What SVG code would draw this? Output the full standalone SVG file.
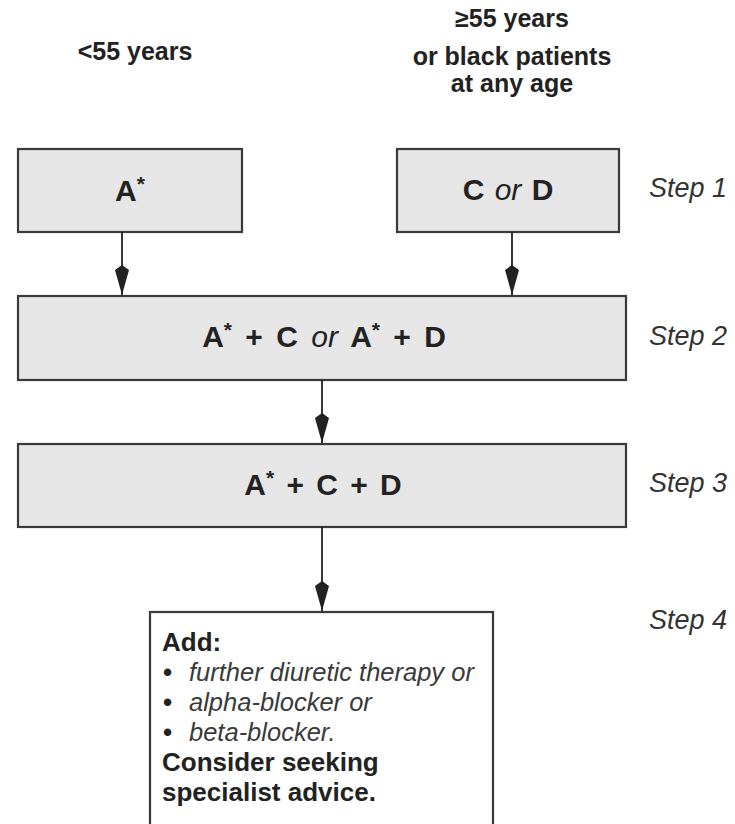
<svg xmlns="http://www.w3.org/2000/svg" width="735" height="824" viewBox="0 0 735 824">
<defs>
<style>
.box{fill:#e6e6e7;stroke:#3a3a3a;stroke-width:2.2}
.wbox{fill:#ffffff;stroke:#3a3a3a;stroke-width:2.2}
.bt{font-family:"Liberation Sans",Arial,sans-serif;font-weight:bold;font-size:30px;fill:#222;text-anchor:middle}
.it{font-style:italic;font-weight:normal}
.sup{font-size:21px}
.hd{font-family:"Liberation Sans",Arial,sans-serif;font-weight:bold;font-size:25px;fill:#222;text-anchor:middle}
.step{font-family:"Liberation Sans",Arial,sans-serif;font-style:italic;font-size:27px;fill:#333}
.b4{font-family:"Liberation Sans",Arial,sans-serif;font-weight:bold;font-size:26px;fill:#222}
.i4{font-family:"Liberation Sans",Arial,sans-serif;font-style:italic;font-size:25.5px;fill:#3a3a3a}
.conn{stroke:#222;stroke-width:1.8;fill:none;marker-end:url(#ah)}
</style>
<marker id="ah" markerUnits="userSpaceOnUse" markerWidth="32" markerHeight="16" viewBox="-31 -8 32 16" refX="0" refY="0" orient="auto">
<path d="M0,0 L-25,-7 L-30,0 L-25,7 Z" fill="#222"/>
</marker>
</defs>

<g id="labels">
<text class="hd" x="135" y="60">&lt;55 years</text>
<text class="hd" x="512" y="27">≥55 years</text>
<text class="hd" x="512" y="65">or black patients</text>
<text class="hd" x="512" y="92">at any age</text>
</g>

<g id="steps">
<text class="step" x="649" y="197">Step 1</text>
<text class="step" x="649" y="345">Step 2</text>
<text class="step" x="649" y="492">Step 3</text>
<text class="step" x="649" y="629">Step 4</text>
</g>

<g id="nodeA">
<rect class="box" x="18" y="149" width="224" height="83"/>
<text class="bt" x="130" y="201">A<tspan class="sup" dy="-10">*</tspan></text>
</g>

<g id="nodeCD">
<rect class="box" x="397" y="149" width="222" height="83"/>
<text class="bt" x="508" y="200" word-spacing="2">C <tspan class="it">or</tspan> D</text>
</g>

<g id="nodeStep2">
<rect class="box" x="18" y="296" width="608" height="84"/>
<text class="bt" x="324" y="347" word-spacing="5">A<tspan class="sup" dy="-10">*</tspan><tspan dy="10"> + C </tspan><tspan class="it">or</tspan> A<tspan class="sup" dy="-10">*</tspan><tspan dy="10"> + D</tspan></text>
</g>

<g id="nodeStep3">
<rect class="box" x="18" y="444" width="608" height="83"/>
<text class="bt" x="323" y="495" word-spacing="4">A<tspan class="sup" dy="-10">*</tspan><tspan dy="10"> + C + D</tspan></text>
</g>

<g id="nodeStep4">
<rect class="wbox" x="150" y="612" width="343" height="230"/>
<text class="b4" x="162" y="651">Add:</text>
<text class="b4" x="163" y="681">•</text>
<text class="i4" x="189" y="681">further diuretic therapy or</text>
<text class="b4" x="163" y="711">•</text>
<text class="i4" x="189" y="711">alpha-blocker or</text>
<text class="b4" x="163" y="741">•</text>
<text class="i4" x="189" y="741">beta-blocker.</text>
<text class="b4" x="162" y="771">Consider seeking</text>
<text class="b4" x="162" y="801">specialist advice.</text>
</g>

<g id="connectors">
<line class="conn" x1="122" y1="232" x2="122" y2="295"/>
<line class="conn" x1="512" y1="232" x2="512" y2="295"/>
<line class="conn" x1="322" y1="380" x2="322" y2="443"/>
<line class="conn" x1="322" y1="527" x2="322" y2="611"/>
</g>
</svg>
